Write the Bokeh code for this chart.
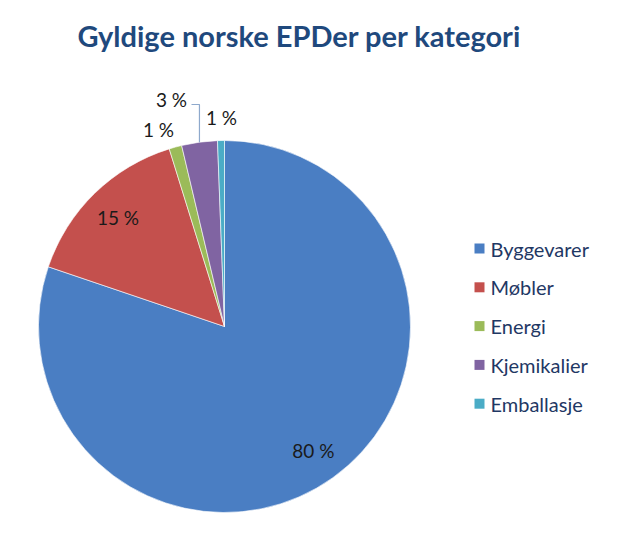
import numpy as np
from bokeh.plotting import figure
from bokeh.models import Range1d, ColumnDataSource
from bokeh.core.properties import value
from bokeh.embed import file_html
from bokeh.resources import INLINE

# ---- data ----
title = "Gyldige norske EPDer per kategori"
categories = ["Byggevarer", "Møbler", "Energi", "Kjemikalier", "Emballasje"]
shares = [80.2, 15.0, 1.1, 3.1, 0.6]
labels = ["80 %", "15 %", "1 %", "3 %", "1 %"]
colors = ["#4A7EC3", "#C4504D", "#9BBB59", "#8064A2", "#4BACC6"]

# ---- layout ----
W, H = 635, 537
p = figure(width=W, height=H, x_range=Range1d(0, W), y_range=Range1d(0, H),
           output_backend="svg", toolbar_location=None, min_border=0,
           x_axis_location=None, y_axis_location=None, outline_line_color=None)
p.grid.visible = False
p.background_fill_color = "white"
p.border_fill_color = "white"

def Y(py):
    return H - py

cx, cy, R = 224, Y(326), 186
frac = np.array(shares) / sum(shares)
cum = np.concatenate([[0.0], np.cumsum(frac)]) * 2 * np.pi  # clockwise from 12 o'clock
start = np.pi / 2 - cum[1:]
end = np.pi / 2 - cum[:-1]
mid = (cum[:-1] + cum[1:]) / 2

src = ColumnDataSource(dict(x=[cx] * len(shares), y=[cy] * len(shares),
                            start=start, end=end, color=colors))
p.wedge(x="x", y="y", radius=R, start_angle="start", end_angle="end",
        direction="anticlock", fill_color="color", line_color="white",
        line_width=0.6, source=src)

# data labels
font = value("Lato")
lx, ly = [], []
outside = {2: (158 - 224, 326 - 129), 3: (171 - 224, 326 - 99), 4: (221 - 224, 326 - 117)}
for i, m in enumerate(mid):
    if i in outside:
        dx, dy = outside[i]
        lx.append(cx + dx)
        ly.append(cy + dy)
    else:
        r = 0.82 * R
        lx.append(cx + r * np.sin(m))
        ly.append(cy + r * np.cos(m))
p.text(x=lx, y=ly, text=labels, text_font=font, text_font_size="19px",
       text_color="#1a1a1a", text_align="center", text_baseline="middle")

# leader line for Kjemikalier
k = 3
ex, ey = cx + R * np.sin(mid[k]), cy + R * np.cos(mid[k])
p.line(x=[lx[k] + 20, ex, ex], y=[ly[k] - 5, ly[k] - 5, ey],
       line_color="#8EA9CC", line_width=1.2)

# title
p.text(x=[299], y=[Y(35)], text=[title], text_font=font, text_font_style="bold",
       text_font_size="29px", text_color="#1F497D", text_align="center",
       text_baseline="middle")

# legend
rows = [Y(248 + 38.8 * i) for i in range(len(categories))]
p.rect(x=[479] * len(categories), y=rows, width=10, height=10,
       fill_color=colors, line_color=None)
p.text(x=[490] * len(categories), y=rows, text=categories, text_font=font,
       text_font_size="20px", text_color="#1F3864", text_align="left",
       text_baseline="middle")

open("out.html", "w").write(file_html(p, INLINE))
